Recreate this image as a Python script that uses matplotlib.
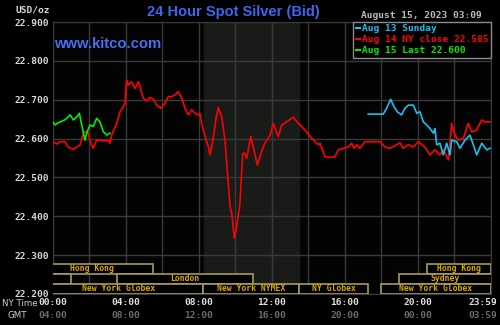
import matplotlib
matplotlib.use("Agg")
import matplotlib.pyplot as plt
from matplotlib.patches import Rectangle
from matplotlib.lines import Line2D
import matplotlib.transforms as mtransforms

# --- data (hours NY time, USD/oz) ---
aug14_hours = [0.00, 0.22, 0.40, 0.67, 0.85, 1.13, 1.32, 1.50, 1.68, 1.77, 1.95, 2.04, 2.22,
               2.41, 2.59, 2.77, 3.05, 3.14, 3.23, 3.51, 3.69, 3.87, 3.96, 4.05, 4.14, 4.33,
               4.51, 4.69, 4.78, 4.96, 5.15, 5.33, 5.51, 5.70, 5.92, 6.15, 6.33, 6.52, 6.70,
               6.88, 7.07, 7.25, 7.43, 7.62, 7.80, 7.98, 8.07, 8.16, 8.35, 8.53, 8.62, 8.77,
               8.95, 9.07, 9.26, 9.44, 9.62, 9.72, 9.81, 9.95, 10.08, 10.26, 10.41, 10.54,
               10.63, 10.85, 11.03, 11.21, 11.36, 11.54, 11.63, 11.91, 12.09, 12.36, 12.55,
               12.82, 13.18, 13.46, 13.82, 14.19, 14.55, 14.65, 14.92, 15.19, 15.47, 15.65,
               15.92, 16.20, 16.38, 16.51, 16.66, 16.84, 17.11, 17.93, 18.21, 18.48, 18.85,
               19.03, 19.21, 19.48, 19.76, 20.03, 20.40, 20.67, 20.95, 21.22, 21.40, 21.68,
               21.86, 22.04, 22.22, 22.50, 22.77, 22.96, 23.23, 23.51, 23.68, 23.96]
aug14_price = [22.592, 22.586, 22.592, 22.592, 22.578, 22.572, 22.578, 22.584, 22.614, 22.618,
               22.614, 22.596, 22.575, 22.596, 22.596, 22.594, 22.595, 22.588, 22.609, 22.639,
               22.669, 22.682, 22.691, 22.751, 22.738, 22.746, 22.729, 22.746, 22.734, 22.704,
               22.697, 22.706, 22.701, 22.686, 22.678, 22.691, 22.708, 22.708, 22.712, 22.721,
               22.704, 22.678, 22.661, 22.674, 22.665, 22.661, 22.665, 22.639, 22.605, 22.579,
               22.558, 22.592, 22.652, 22.680, 22.656, 22.596, 22.485, 22.425, 22.408, 22.344,
               22.373, 22.433, 22.562, 22.562, 22.549, 22.605, 22.571, 22.532, 22.553, 22.579,
               22.588, 22.609, 22.639, 22.605, 22.635, 22.643, 22.655, 22.639, 22.622, 22.601,
               22.584, 22.588, 22.553, 22.552, 22.553, 22.571, 22.575, 22.578, 22.588, 22.575,
               22.584, 22.575, 22.592, 22.592, 22.578, 22.575, 22.584, 22.589, 22.575, 22.584,
               22.578, 22.592, 22.578, 22.558, 22.571, 22.558, 22.571, 22.545, 22.639, 22.609,
               22.596, 22.600, 22.639, 22.617, 22.622, 22.648, 22.643, 22.643]

aug13_hours = [17.29, 18.11, 18.30, 18.52, 18.70, 18.88, 19.12, 19.30, 19.49, 19.76, 19.95,
               20.12, 20.31, 20.49, 20.67, 20.86, 20.95, 21.04, 21.22, 21.40, 21.59, 21.77,
               21.86, 22.14, 22.32, 22.59, 22.86, 23.05, 23.23, 23.51, 23.78, 23.96]
aug13_price = [22.663, 22.663, 22.678, 22.701, 22.682, 22.669, 22.661, 22.678, 22.686, 22.686,
               22.665, 22.669, 22.643, 22.635, 22.626, 22.614, 22.626, 22.584, 22.588, 22.558,
               22.588, 22.558, 22.596, 22.592, 22.575, 22.596, 22.609, 22.584, 22.558, 22.588,
               22.571, 22.575]

aug15_hours = [0.00, 0.13, 0.31, 0.58, 0.77, 0.95, 1.13, 1.32, 1.46, 1.59, 1.68, 1.77, 1.86,
               2.04, 2.22, 2.41, 2.59, 2.77, 2.96, 3.14]
aug15_price = [22.643, 22.635, 22.641, 22.646, 22.652, 22.661, 22.648, 22.656, 22.665, 22.635,
               22.614, 22.596, 22.614, 22.635, 22.631, 22.652, 22.643, 22.618, 22.609, 22.614]

legend_labels = ["Aug 13 Sunday", "Aug 14 NY close 22.585", "Aug 15 Last 22.600"]

y_ticks = [22.2, 22.3, 22.4, 22.5, 22.6, 22.7, 22.8, 22.9]
x_ticks = [0, 4, 8, 12, 16, 20, 24]
ny_labels = ["00:00", "04:00", "08:00", "12:00", "16:00", "20:00", "23:59"]
gmt_labels = ["04:00", "08:00", "12:00", "16:00", "20:00", "00:00", "03:59"]

# trading sessions: (row, start, end, name)  row 0 = top row
sessions = [
    (0, -1.2, 5.5, "Hong Kong"),
    (0, 20.5, 24.0, "Hong Kong"),
    (1, -2.0, 1.0, ""),
    (1, 3.5, 11.0, "London"),
    (1, 19.0, 24.5, "Sydney"),
    (2, -1.0, 8.25, "New York Globex"),
    (2, 8.25, 13.5, "New York NYMEX"),
    (2, 13.5, 17.3, "NY Globex"),
    (2, 18.0, 24.0, "New York Globex"),
]
nymex_open, nymex_close = 8.3, 13.5

MONO = "DejaVu Sans Mono"
GRID = "#3a3a3a"

fig = plt.figure(figsize=(5, 3.25), dpi=100, facecolor="black")
ax = fig.add_axes([0.1054, 0.0954, 0.876, 0.8369], facecolor="#030303")

ax.set_xlim(0, 24)
ax.set_ylim(22.2, 22.9)

# NYMEX pit hours shading
ax.axvspan(nymex_open, nymex_close, color="#181b18", zorder=0)

ax.set_yticks(y_ticks)
ax.set_yticklabels(["%.3f" % v for v in y_ticks], fontfamily=MONO,
                   fontweight="bold", fontsize=6.8, color="#d8d8d8")
ax.set_xticks(x_ticks)
ax.set_xticklabels(ny_labels, fontfamily=MONO, fontweight="bold",
                   fontsize=6.8, color="#e0e0e0")
ax.set_xticks(range(2, 24, 4), minor=True)
ax.tick_params(which="both", length=0, pad=3)
ax.grid(True, which="both", color=GRID, linewidth=1, zorder=1)
for s in ax.spines.values():
    s.set_color(GRID)
# last label sits inside the figure edge
shift = mtransforms.ScaledTranslation(-8 / 100.0, 0, fig.dpi_scale_trans)
last = ax.get_xticklabels()[-1]
last.set_transform(last.get_transform() + shift)

# price lines
ax.plot(aug14_hours, aug14_price, color="#ff0000", lw=1.2, zorder=3)
ax.plot(aug13_hours, aug13_price, color="#18c0f0", lw=1.2, zorder=4)
ax.plot(aug15_hours, aug15_price, color="#00ee00", lw=1.2, zorder=5)

# session boxes
blend = mtransforms.blended_transform_factory(ax.transData, ax.transAxes)
row_h = 10 / 272.0
for row, start, end, name in sessions:
    y0 = (2 - row) * row_h
    ax.add_patch(Rectangle((start, y0), end - start, row_h, transform=blend,
                           facecolor="black", edgecolor="#a49c5c", lw=1.2,
                           zorder=6, clip_on=True))
    if name:
        cx = (start + min(end, 24)) / 2.0
        ax.text(cx, y0 + row_h / 2, name, transform=blend, ha="center", va="center",
                fontfamily=MONO, fontweight="bold", fontsize=5.9, color="#d8a800",
                zorder=7, clip_on=True)

# GMT row under the NY time ticks
xlab = mtransforms.blended_transform_factory(ax.transData, fig.transFigure)
for i, (x, lab) in enumerate(zip(x_ticks, gmt_labels)):
    t = ax.text(x, 1 - 315 / 325.0, lab, transform=xlab, ha="center", va="center",
                fontfamily=MONO, fontweight="bold", fontsize=6.8, color="#6c6c6c")
    if i == len(x_ticks) - 1:
        t.set_transform(xlab + shift)
fig.text(2 / 500.0, 1 - 304 / 325.0, "NY Time", ha="left", va="center",
         fontfamily="DejaVu Sans", fontsize=6.2, color="#d0d0d0")
fig.text(7 / 500.0, 1 - 315 / 325.0, "GMT", ha="left", va="center",
         fontfamily="DejaVu Sans", fontsize=6.2, color="#d0d0d0")
fig.text(15 / 500.0, 1 - 10 / 325.0, "USD/oz", ha="left", va="center",
         fontfamily=MONO, fontweight="bold", fontsize=6.8, color="#d8d8d8")

# title and header texts
fig.text(233 / 500.0, 1 - 12 / 325.0, "24 Hour Spot Silver (Bid)", ha="center",
         va="center", fontfamily="Liberation Sans", fontweight="bold", fontsize=10.5,
         color="#4066f0")
ax.text(0.004, 0.92, "www.kitco.com", transform=ax.transAxes, ha="left", va="center",
        fontfamily="Liberation Sans", fontweight="bold", fontsize=10.6, color="#4470f0",
        zorder=8)
fig.text(482 / 500.0, 1 - 15 / 325.0, "August 15, 2023 03:09", ha="right", va="center",
         fontfamily=MONO, fontweight="bold", fontsize=6.8, color="#bcbcbc")

# legend
handles = [Line2D([], [], color=c, lw=1.5) for c in ["#18c0f0", "#ff0000", "#00ee00"]]
leg = ax.legend(handles, legend_labels, loc="upper right", borderaxespad=0,
                handlelength=0.5, handletextpad=0.15, labelspacing=0.2,
                borderpad=0.25, fancybox=False, facecolor="black", edgecolor="#8a8a8a",
                framealpha=1, labelcolor="linecolor",
                prop={"family": MONO, "weight": "bold", "size": 6.8})
leg.set_zorder(9)

fig.savefig("out.png", dpi=100, facecolor="black")
